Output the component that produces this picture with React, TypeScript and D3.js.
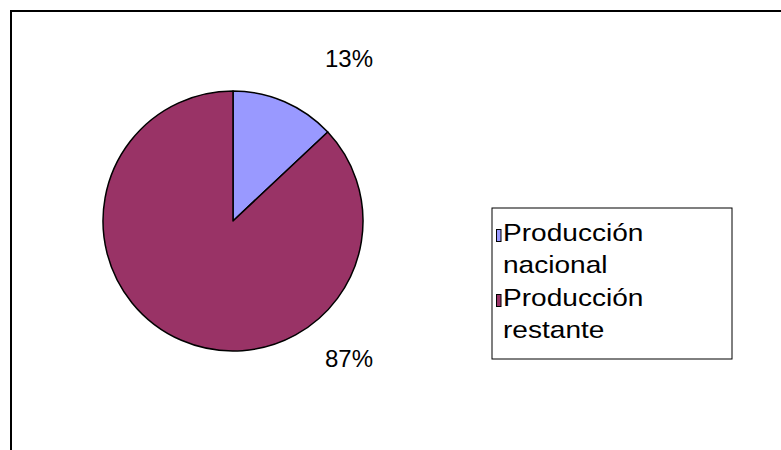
import React from "react";
import * as d3 from "d3";

const categories = ["Producción nacional", "Producción restante"];
const legendLines = [["Producción", "nacional"], ["Producción", "restante"]];
const values = [13, 87];
const labels = ["13%", "87%"];
const colors = ["#9999FF", "#993366"];

const W = 781;
const H = 450;
const cx = 233;
const cy = 221;
const R = 130;

export default function App() {
  const pie = d3.pie<number>().sort(null).startAngle(0).endAngle(2 * Math.PI)(values);
  const arc = d3.arc<d3.PieArcDatum<number>>().innerRadius(0).outerRadius(R);
  const labelPos = [
    [349, 67],
    [349, 367],
  ];
  return (
    <svg width={W} height={H} style={{ position: "absolute", left: 0, top: 0 }} fontFamily="Liberation Sans, Arial, sans-serif">
      <rect x={0} y={0} width={W} height={H} fill="#fff" />
      <path d={`M11,${H + 5} L11,11 L${W + 5},11`} fill="none" stroke="#000" strokeWidth={2} />
      <g transform={`translate(${cx},${cy})`}>
        {pie.map((p, i) => (
          <path key={i} d={arc(p) || ""} fill={colors[i]} stroke="#000" strokeWidth={1.5} strokeLinejoin="round" />
        ))}
      </g>
      {labels.map((l, i) => (
        <text key={i} x={labelPos[i][0]} y={labelPos[i][1]} textAnchor="middle" fontSize={24}>
          {l}
        </text>
      ))}
      <rect x={492} y={208} width={240} height={151} fill="#fff" stroke="#000" strokeWidth={1} />
      {categories.map((c, i) => (
        <g key={c} transform={`translate(0,${i * 65})`}>
          <rect x={496.5} y={229.5} width={4.5} height={12} fill={colors[i]} stroke="#000" strokeWidth={1} />
          {legendLines[i].map((t, j) => (
            <text key={j} x={503} y={241 + j * 32.5} fontSize={24} transform={`translate(503,0) scale(1.17,1) translate(-503,0)`}>
              {t}
            </text>
          ))}
        </g>
      ))}
    </svg>
  );
}
